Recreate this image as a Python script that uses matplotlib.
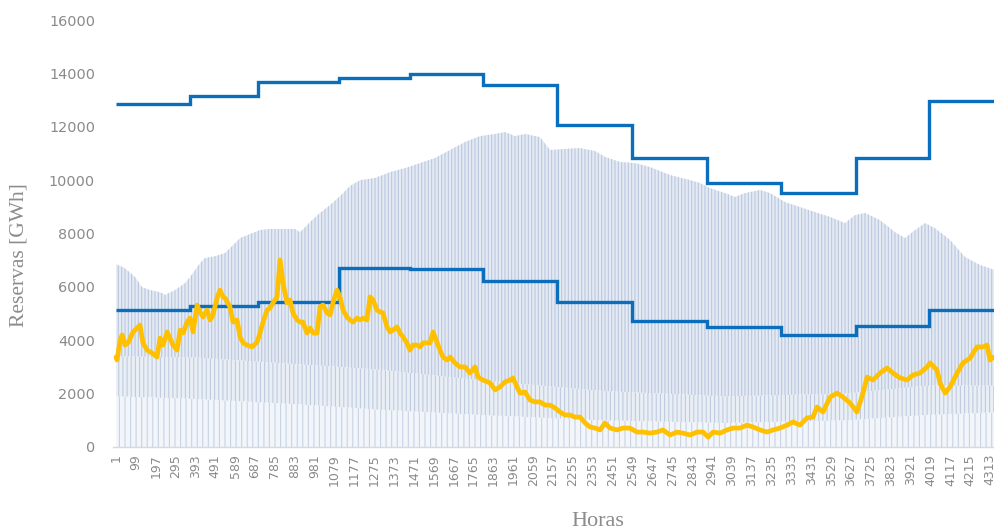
import numpy as np
import matplotlib
matplotlib.use("Agg")
import matplotlib.pyplot as plt

# ---------------- data ----------------
# Step limits (upper / lower volume bounds), boundaries in hours
step_edges = [1, 366, 701, 1101, 1451, 1811, 2177, 2546, 2916, 3281, 3651, 4011, 4337]
upper_limit = [12850, 13150, 13680, 13830, 13980, 13560, 12070, 10830, 9890, 9515, 10830, 12960]
lower_limit = [5130, 5280, 5430, 6700, 6670, 6220, 5430, 4720, 4500, 4200, 4530, 5130]

# Upper envelope of the scenario band
band_hours = [1, 45, 95, 129, 169, 218, 243, 292, 341, 366, 391, 415, 440, 489, 539,
              613, 711, 761, 884, 909, 958, 1007, 1057, 1106, 1155, 1205, 1279, 1353,
              1427, 1501, 1575, 1649, 1723, 1797, 1871, 1920, 1970, 2019, 2093, 2142,
              2216, 2290, 2364, 2413, 2487, 2561, 2635, 2734, 2833, 2882, 2931, 3005,
              3054, 3104, 3178, 3227, 3301, 3375, 3449, 3523, 3597, 3646, 3696, 3770,
              3844, 3893, 3943, 3992, 4041, 4115, 4189, 4263, 4337]
band_top = [6850, 6700, 6370, 5990, 5880, 5800, 5700, 5880, 6140, 6370, 6630, 6890, 7080,
            7150, 7270, 7830, 8130, 8170, 8170, 8050, 8430, 8770, 9070, 9400, 9780, 10000,
            10080, 10300, 10450, 10640, 10830, 11130, 11430, 11650, 11730, 11800, 11650,
            11730, 11610, 11130, 11170, 11200, 11090, 10870, 10680, 10640, 10490, 10190,
            10000, 9890, 9700, 9515, 9370, 9515, 9630, 9515, 9180, 8990, 8800, 8620, 8390,
            8690, 8770, 8500, 8050, 7830, 8130, 8390, 8200, 7760, 7120, 6820, 6630]

# Inner percentile boundaries of the band
inner_hours = [1, 400, 900, 1300, 1800, 2400, 3000, 3600, 4000, 4337]
band_mid = [3400, 3350, 3100, 2900, 2500, 2100, 1900, 2000, 2300, 2300]
band_low = [1900, 1800, 1600, 1400, 1200, 1000, 900, 1000, 1200, 1300]

# Reservoir level (yellow line)
res_hours = [1, 6, 21, 31, 45, 60, 85, 110, 119, 134, 154, 179, 203, 218, 233, 253, 267,
             282, 302, 317, 332, 351, 366, 381, 401, 415, 430, 450, 465, 479, 499, 514,
             529, 539, 563, 578, 598, 613, 628, 647, 672, 697, 711, 726, 746, 761, 775,
             795, 810, 825, 844, 859, 874, 894, 909, 923, 943, 958, 973, 993, 1007, 1022,
             1042, 1057, 1071, 1091, 1106, 1121, 1140, 1155, 1170, 1190, 1205, 1219, 1239,
             1254, 1269, 1288, 1303, 1318, 1338, 1353, 1367, 1387, 1402, 1417, 1436, 1451,
             1466, 1486, 1501, 1515, 1535, 1550, 1565, 1584, 1599, 1614, 1634, 1649, 1673,
             1698, 1723, 1747, 1772, 1787, 1811, 1846, 1871, 1895, 1920, 1945, 1959, 1979,
             1994, 2019, 2043, 2068, 2093, 2117, 2142, 2167, 2191, 2216, 2241, 2265, 2290,
             2315, 2339, 2364, 2389, 2413, 2438, 2472, 2502, 2536, 2571, 2601, 2635, 2670,
             2699, 2734, 2768, 2798, 2833, 2867, 2897, 2922, 2946, 2981, 3015, 3045, 3079,
             3114, 3143, 3178, 3212, 3242, 3276, 3311, 3341, 3375, 3410, 3439, 3459, 3489,
             3523, 3558, 3587, 3622, 3656, 3686, 3706, 3735, 3770, 3804, 3834, 3868, 3903,
             3933, 3967, 4002, 4017, 4051, 4066, 4091, 4115, 4150, 4179, 4214, 4248, 4278,
             4298, 4312, 4330]
reserve = [3370, 3260, 4010, 4200, 3820, 3900, 4310, 4500, 4570, 3900, 3630, 3520, 3370,
           4080, 3820, 4310, 4080, 3820, 3630, 4380, 4270, 4680, 4830, 4310, 5320, 5060,
           4870, 5130, 4760, 4950, 5580, 5880, 5620, 5580, 5250, 4680, 4760, 4120, 3900,
           3820, 3750, 3930, 4270, 4680, 5130, 5210, 5400, 5620, 7010, 6140, 5400, 5510,
           5020, 4760, 4680, 4680, 4270, 4460, 4270, 4270, 5250, 5320, 5020, 4950, 5400,
           5880, 5620, 5130, 4870, 4760, 4680, 4830, 4760, 4830, 4760, 5620, 5510, 5130,
           5060, 5020, 4500, 4310, 4380, 4500, 4270, 4120, 3900, 3630, 3820, 3820, 3750,
           3900, 3900, 3900, 4310, 3930, 3630, 3370, 3260, 3370, 3150, 3000, 3000, 2770,
           3000, 2620, 2510, 2400, 2140, 2250, 2440, 2510, 2590, 2250, 2020, 2060, 1760,
           1690, 1690, 1570, 1570, 1460, 1310, 1200, 1200, 1120, 1120, 900, 750, 710, 640,
           900, 710, 640, 710, 710, 560, 560, 520, 560, 640, 450, 560, 520, 450, 560, 560,
           370, 560, 520, 640, 710, 710, 820, 750, 640, 560, 640, 710, 820, 940, 820, 1090,
           1120, 1500, 1310, 1870, 2020, 1870, 1650, 1310, 2020, 2620, 2510, 2770, 2960,
           2770, 2590, 2510, 2700, 2770, 3000, 3150, 2880, 2400, 2020, 2250, 2770, 3150,
           3330, 3750, 3750, 3820, 3260, 3370]

x_ticks = [1, 99, 197, 295, 393, 491, 589, 687, 785, 883, 981, 1079, 1177, 1275, 1373,
           1471, 1569, 1667, 1765, 1863, 1961, 2059, 2157, 2255, 2353, 2451, 2549, 2647,
           2745, 2843, 2941, 3039, 3137, 3235, 3333, 3431, 3529, 3627, 3725, 3823, 3921,
           4019, 4117, 4215, 4313]
y_ticks = [0, 2000, 4000, 6000, 8000, 10000, 12000, 14000, 16000]

# ---------------- figure ----------------
plt.rcParams['hatch.linewidth'] = 0.8
fig = plt.figure(figsize=(9.95, 5.31), dpi=100)
ax = fig.add_axes([113 / 995, 84 / 531, 882 / 995, 427 / 531])

bh = np.array(band_hours, dtype=float)
mid_i = np.interp(bh, inner_hours, band_mid)
low_i = np.interp(bh, inner_hours, band_low)
top = np.array(band_top, dtype=float)

ax.fill_between(bh, 0, low_i, facecolor='#f2f5fa', edgecolor='#c8d3e4',
                hatch='|||', linewidth=0, zorder=1)
ax.fill_between(bh, low_i, mid_i, facecolor='#eaeff6', edgecolor='#bfcbdf',
                hatch='||||', linewidth=0, zorder=1)
ax.fill_between(bh, mid_i, top, facecolor='#e5ebf4', edgecolor='#b9c7dd',
                hatch='|||||', linewidth=0, zorder=1)

# step limits
ax.stairs(upper_limit, step_edges, color='#0a6ebd', linewidth=2.4, zorder=3,
          baseline=None)
ax.stairs(lower_limit, step_edges, color='#0a6ebd', linewidth=2.4, zorder=3,
          baseline=None)

# reservoir level
ax.plot(res_hours, reserve, color='#ffc000', linewidth=3.4, zorder=4,
        solid_joinstyle='round', solid_capstyle='round')

ax.set_xlim(-14, 4337)
ax.set_ylim(0, 16000)
ax.set_yticks(y_ticks)
ax.set_yticklabels([str(v) for v in y_ticks], fontsize=10.4, color='#8a8a8a',
                   family='DejaVu Sans')
ax.set_xticks(x_ticks)
ax.set_xticklabels([str(v) for v in x_ticks], rotation=90, fontsize=9,
                   color='#8a8a8a', family='DejaVu Sans')
ax.tick_params(axis='both', length=0)
ax.tick_params(axis='y', pad=13)
ax.tick_params(axis='x', pad=5)

for s in ['top', 'right', 'left']:
    ax.spines[s].set_visible(False)
ax.spines['bottom'].set_color('#d9d9d9')
ax.spines['bottom'].set_linewidth(1.0)

ax.set_ylabel('Reservas [GWh]', fontsize=15.5, color='#8c8c8c',
              family='Liberation Serif')
ax.yaxis.set_label_coords(-0.096, 0.45)
ax.set_xlabel('Horas', fontsize=16, color='#8c8c8c', family='Liberation Serif')
ax.xaxis.set_label_coords(0.55, -0.152)

fig.savefig('out.png', dpi=100)
